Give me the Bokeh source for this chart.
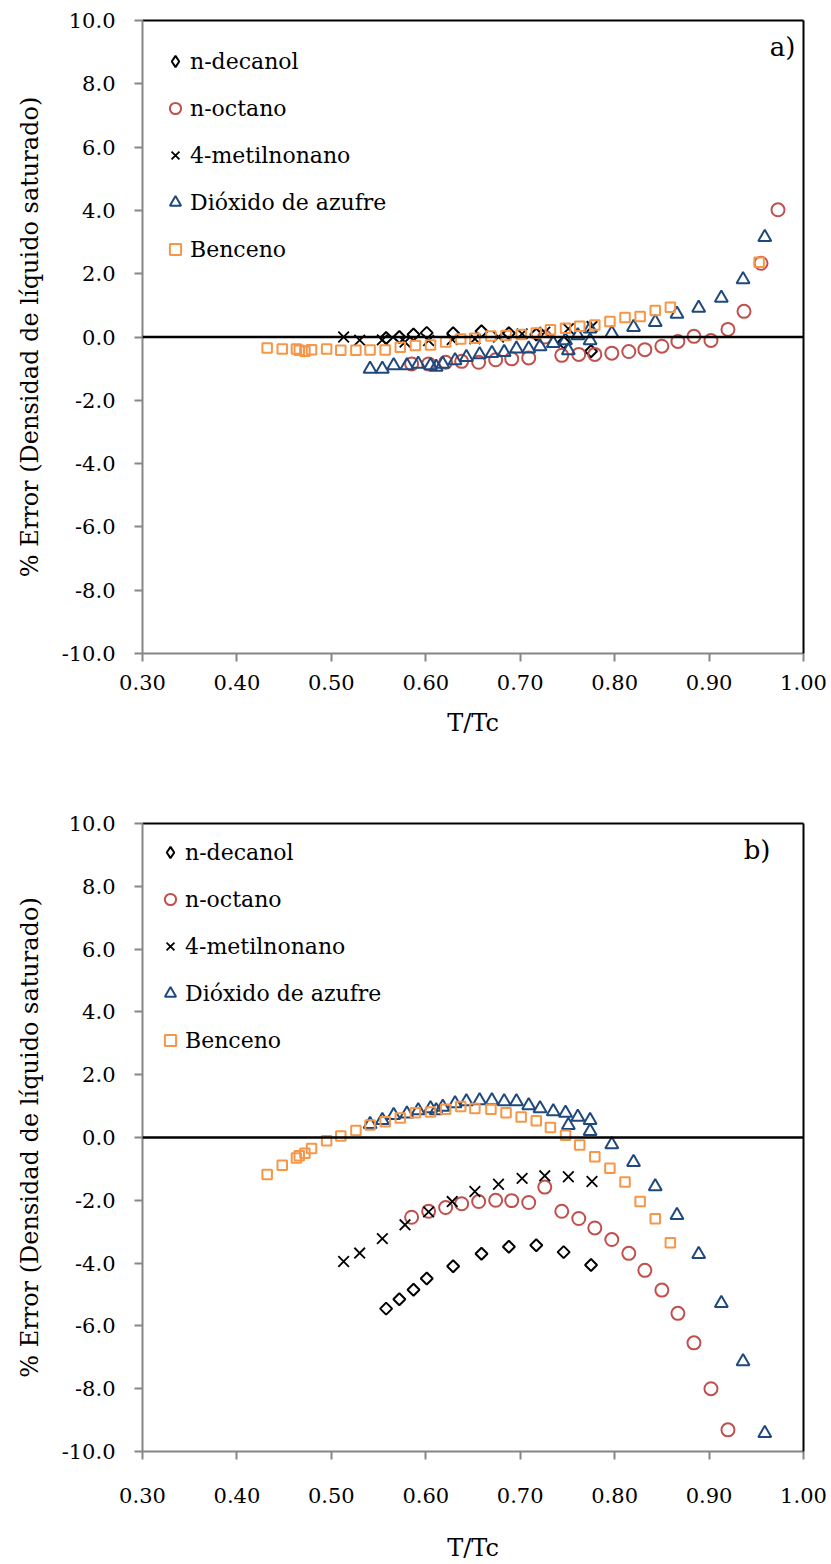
import numpy as np
from bokeh.plotting import figure
from bokeh.models import (Range1d, FixedTicker, NumeralTickFormatter, LinearAxis,
                          Span, Label, Legend, LegendItem)
from bokeh.layouts import column
from bokeh.embed import file_html
from bokeh.resources import INLINE

# ---------------- data ----------------
x_ticks = [0.3, 0.4, 0.5, 0.6, 0.7, 0.8, 0.9, 1.0]
y_ticks = [-10, -8, -6, -4, -2, 0, 2, 4, 6, 8, 10]

names = ["n-decanol", "n-octano", "4-metilnonano", "Dióxido de azufre", "Benceno"]

T_decanol = [0.558, 0.572, 0.587, 0.601, 0.629, 0.659, 0.688, 0.717, 0.746, 0.775]
err_a_decanol = [-0.03, 0.0, 0.08, 0.13, 0.12, 0.18, 0.12, 0.08, -0.17, -0.45]
err_b_decanol = [-5.45, -5.15, -4.85, -4.49, -4.10, -3.70, -3.48, -3.43, -3.65, -4.06]

T_octano = [0.585, 0.603, 0.621, 0.638, 0.656, 0.674, 0.691, 0.709, 0.726, 0.744,
            0.762, 0.779, 0.797, 0.815, 0.832, 0.850, 0.867, 0.884, 0.902, 0.920,
            0.937, 0.955, 0.973]
err_a_octano = [-0.85, -0.85, -0.80, -0.77, -0.80, -0.72, -0.69, -0.66, 0.0, -0.58,
                -0.55, -0.55, -0.51, -0.46, -0.40, -0.29, -0.14, 0.02, -0.11, 0.24,
                0.81, 2.33, 4.02]
err_b_octano = [-2.54, -2.35, -2.23, -2.11, -2.04, -2.00, -2.01, -2.07, -1.58, -2.35,
                -2.58, -2.88, -3.25, -3.69, -4.23, -4.86, -5.60, -6.54, -8.00, -9.31]

T_metil = [0.513, 0.530, 0.554, 0.578, 0.603, 0.628, 0.652, 0.677, 0.702, 0.726, 0.751, 0.776]
err_a_metil = [0.0, -0.10, -0.09, -0.16, -0.11, -0.08, -0.06, 0.0, 0.10, 0.15, 0.26, 0.33]
err_b_metil = [-3.95, -3.68, -3.22, -2.78, -2.37, -2.04, -1.72, -1.49, -1.30, -1.22, -1.25, -1.40]

T_so2 = [0.541, 0.554, 0.566, 0.580, 0.592, 0.605, 0.611, 0.618, 0.631, 0.643,
         0.657, 0.670, 0.683, 0.696, 0.709, 0.721, 0.735, 0.748, 0.751, 0.761,
         0.774, 0.774, 0.797, 0.820, 0.843, 0.866, 0.889, 0.913, 0.936, 0.959]
err_a_so2 = [-1.01, -1.01, -0.90, -0.90, -0.85, -0.90, -0.95, -0.85, -0.74, -0.64,
             -0.55, -0.51, -0.48, -0.37, -0.37, -0.30, -0.20, -0.11, -0.43, 0.05,
             0.26, -0.11, 0.12, 0.31, 0.47, 0.73, 0.92, 1.23, 1.82, 3.15]
err_b_so2 = [0.42, 0.55, 0.71, 0.76, 0.86, 0.92, 0.86, 0.97, 1.08, 1.15,
             1.18, 1.18, 1.15, 1.15, 1.02, 0.92, 0.83, 0.78, 0.39, 0.65,
             0.55, 0.20, -0.22, -0.79, -1.56, -2.48, -3.72, -5.28, -7.13, -9.42]

T_benceno = [0.432, 0.448, 0.463, 0.466, 0.472, 0.479, 0.495, 0.510, 0.526, 0.541,
             0.557, 0.573, 0.589, 0.605, 0.621, 0.637, 0.652, 0.669, 0.685, 0.701,
             0.717, 0.732, 0.748, 0.763, 0.779, 0.795, 0.811, 0.827, 0.843, 0.859,
             0.953]
err_a_benceno = [-0.35, -0.38, -0.38, -0.42, -0.45, -0.40, -0.38, -0.42, -0.42, -0.41,
                 -0.41, -0.32, -0.27, -0.25, -0.16, -0.06, -0.04, 0.03, 0.05, 0.08,
                 0.13, 0.23, 0.28, 0.34, 0.38, 0.49, 0.62, 0.65, 0.84, 0.94,
                 2.36]
err_b_benceno = [-1.18, -0.88, -0.65, -0.58, -0.50, -0.35, -0.10, 0.05, 0.22, 0.40,
                 0.50, 0.62, 0.79, 0.81, 0.90, 0.99, 0.92, 0.90, 0.79, 0.65,
                 0.53, 0.32, 0.07, -0.24, -0.61, -0.98, -1.42, -2.04, -2.59, -3.35]

FONT = "DejaVu Serif"
GRAY = "#868686"


def make_panel(height, border_bottom, tag, tag_x, tag_y, leg_loc, lab_off, title_off, series):
    p = figure(width=831, height=height, output_backend="svg", toolbar_location=None,
               x_range=Range1d(0.3, 1.0), y_range=Range1d(-10, 10),
               min_border_left=142, min_border_right=28, min_border_top=20,
               min_border_bottom=border_bottom)
    p.grid.visible = False
    p.outline_line_color = None
    p.background_fill_color = "white"
    p.border_fill_color = "white"

    for ax, ticks, fmt in ((p.xaxis[0], x_ticks, "0.00"), (p.yaxis[0], y_ticks, "0.0")):
        ax.ticker = FixedTicker(ticks=ticks)
        ax.formatter = NumeralTickFormatter(format=fmt)
        ax.axis_line_color = GRAY
        ax.axis_line_width = 2
        ax.major_tick_line_color = GRAY
        ax.major_tick_line_width = 2
        ax.major_tick_in = 0
        ax.major_tick_out = 8
        ax.minor_tick_line_color = None
        ax.major_label_text_font = FONT
        ax.major_label_text_font_size = "21px"
        ax.major_label_text_color = "black"
        ax.axis_label_text_font = FONT
        ax.axis_label_text_font_size = "24px"
        ax.axis_label_text_font_style = "normal"
        ax.axis_label_text_color = "black"
    p.xaxis[0].axis_label = "T/Tc"
    p.yaxis[0].axis_label = "% Error (Densidad de líquido saturado)"
    p.xaxis[0].major_label_standoff = lab_off
    p.xaxis[0].axis_label_standoff = title_off
    p.yaxis[0].major_label_standoff = 19
    p.yaxis[0].axis_label_standoff = 15

    for loc in ("right", "above"):
        a = LinearAxis(ticker=FixedTicker(ticks=[]), axis_line_color="black",
                       axis_line_width=2, major_tick_line_color=None,
                       minor_tick_line_color=None)
        p.add_layout(a, loc)

    p.add_layout(Span(location=0, dimension="width", line_color="black", line_width=2.5))

    (Td, ed), (To, eo), (Tm, em), (Ts, es), (Tb, eb) = series
    # diamonds drawn as squares turned by 45 degrees
    p.scatter(Td[:len(ed)], ed, marker="square", angle=np.pi / 4, size=8.5,
              fill_color=None, line_color="black", line_width=2)
    # legend-only stand-in for the diamond (a single NaN point, nothing drawn)
    r_d = p.scatter([np.nan], [np.nan], marker="diamond", size=12,
                    fill_color=None, line_color="black", line_width=2)
    r_o = p.scatter(To[:len(eo)], eo, marker="circle", size=13,
                    fill_color=None, line_color="#C0504D", line_width=2)
    r_m = p.scatter(Tm[:len(em)], em, marker="x", size=15,
                    fill_color=None, line_color="black", line_width=1.8)
    r_s = p.scatter(Ts[:len(es)], es, marker="triangle", size=13,
                    fill_color=None, line_color="#1F497D", line_width=2)
    r_b = p.scatter(Tb[:len(eb)], eb, marker="square", size=9.5,
                    fill_color=None, line_color="#F79646", line_width=2)

    items = [LegendItem(label=n, renderers=[r]) for n, r in
             zip(names, [r_d, r_o, r_m, r_s, r_b])]
    lg = Legend(items=items, location=leg_loc, background_fill_alpha=0,
                border_line_color=None, padding=0, margin=0, spacing=19,
                glyph_width=28, glyph_height=28, label_height=28, label_standoff=1,
                label_text_font=FONT, label_text_font_size="22px",
                label_text_color="black")
    p.add_layout(lg, "center")

    p.add_layout(Label(x=tag_x, y=tag_y, x_units="screen", y_units="screen", text=tag,
                       text_font=FONT, text_font_size="26px", text_align="right",
                       text_baseline="middle", text_color="black"))
    return p


pa = make_panel(803, 150, "a)", 795 - 142, 633 - (46 - 20), (19, 390), 13, 16,
                [(T_decanol, err_a_decanol), (T_octano, err_a_octano),
                 (T_metil, err_a_metil), (T_so2, err_a_so2), (T_benceno, err_a_benceno)])
pb = make_panel(761, 109, "b)", 770 - 142, 632 - (853 - 823), (14, 397), 28, 28,
                [(T_decanol, err_b_decanol), (T_octano, err_b_octano),
                 (T_metil, err_b_metil), (T_so2, err_b_so2), (T_benceno, err_b_benceno)])

layout = column(pa, pb, spacing=0)
open("out.html", "w").write(file_html(layout, INLINE))
